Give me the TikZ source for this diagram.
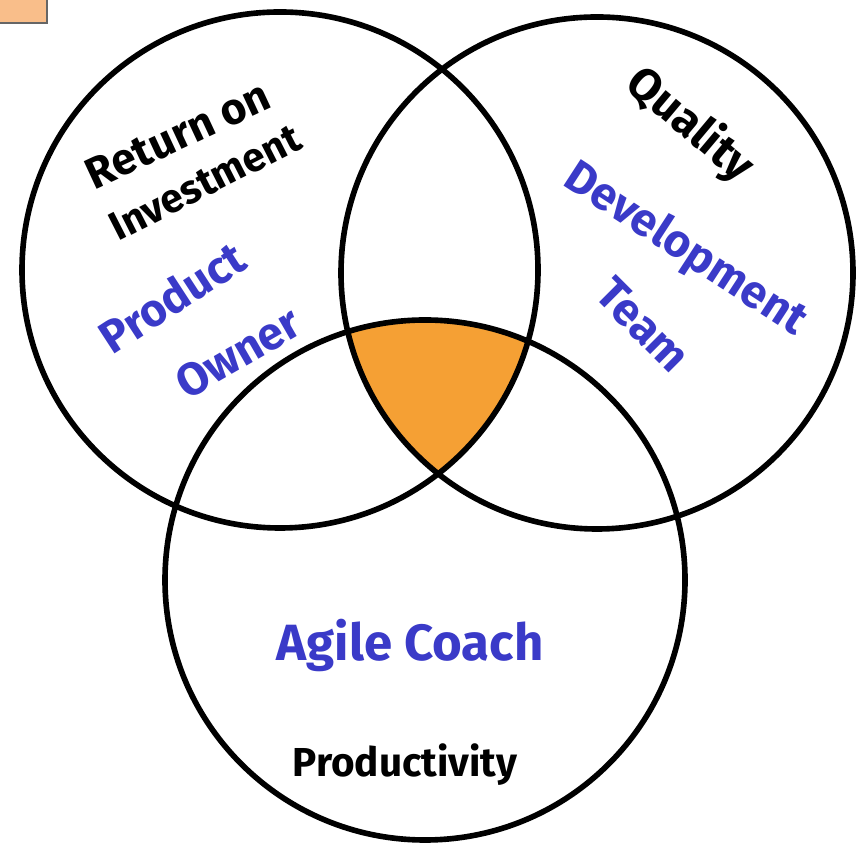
\documentclass[tikz,border=0pt]{standalone}
\usepackage{fontspec}
\setmainfont{Fira Sans}
\definecolor{markerblue}{RGB}{58,58,200}
\definecolor{overlaporange}{RGB}{245,160,52}
\definecolor{tagorange}{RGB}{249,190,138}
\tikzset{
  ring/.style={line width=3.2pt, black},
  goal/.style={black, inner sep=1pt, font=\fontsize{23}{24}\selectfont\bfseries},
  role/.style={markerblue, inner sep=1pt, font=\fontsize{26}{28}\selectfont\bfseries},
}
\begin{document}
\begin{tikzpicture}
        \useasboundingbox (0,0) rectangle (17.36,17.1);

        % Tag in the corner
        \filldraw[fill=tagorange, draw=black!60, line width=1.5pt] (-0.2,16.64) rectangle (0.94,17.3);

        % Shared area of the three circles
        \begin{scope}
          \clip (5.6,11.7) circle (5.16);
          \clip (11.94,11.64) circle (5.12);
          \fill[overlaporange] (8.5,5.5) circle (5.2);
        \end{scope}

        % Circles
        \draw[ring] (5.6,11.7) circle (5.16);
        \draw[ring] (11.94,11.64) circle (5.12);
        \draw[ring] (8.5,5.5) circle (5.2);

        % Product owner
        \node[goal, rotate=25, font=\fontsize{25}{26}\selectfont\bfseries] (roi) at (3.56,14.4) {Return on};
        \node[goal, rotate=27] (invest) at (4.1,13.45) {Investment};
        \node[role, rotate=33] (product) at (3.44,11.16) {Product};
        \node[role, rotate=30] (owner) at (4.76,10.05) {Owner};

        % Development team
        \node[goal, rotate=-40, font=\fontsize{26}{28}\selectfont\bfseries] (quality) at (13.8,14.6) {Quality};
        \node[role, rotate=-33] (develop) at (13.7,12.1) {Development};
        \node[role, rotate=-45] (team) at (12.86,10.6) {Team};

        % Agile coach
        \node[role, font=\fontsize{29}{30}\selectfont\bfseries] (coach) at (8.2,4.2) {Agile Coach};
        \node[goal] (productivity) at (8.1,1.8) {Productivity};
    \end{tikzpicture}
\end{document}
